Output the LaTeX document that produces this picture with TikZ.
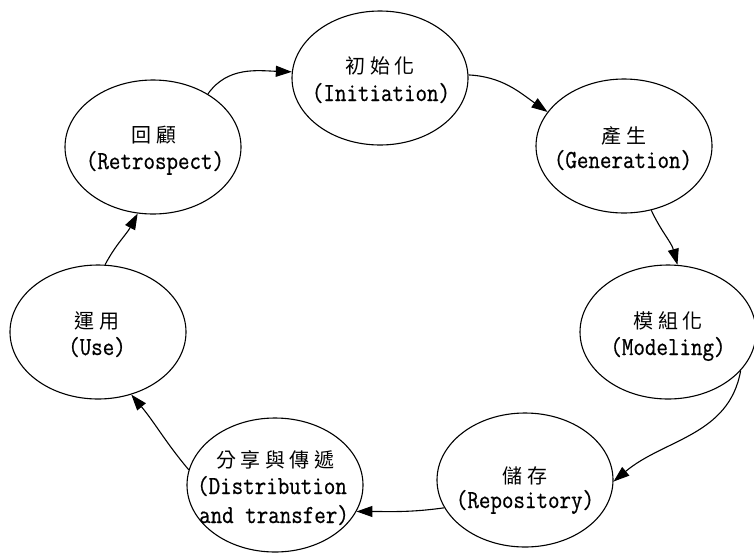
\documentclass[tikz,border=0pt]{standalone}
\usepackage{fontspec}
\usetikzlibrary{shapes.geometric,arrows.meta}
\newfontfamily\cjk{Noto Sans CJK TC}
\newfontfamily\lat[FakeStretch=0.86,FakeBold=0.6]{Latin Modern Mono}
\newcommand\gp{\hspace{4.5pt}}
\begin{document}
\begin{tikzpicture}[x=1pt,y=-1pt,
  stage/.style={ellipse,draw,line width=1.1pt,minimum width=176pt,minimum height=134pt,inner sep=0pt},
  zh/.style={anchor=base,inner sep=0pt,font=\cjk\fontsize{20}{22}\selectfont},
  en/.style={anchor=base,inner sep=0pt,font=\lat\fontsize{26}{28}\selectfont},
  flow/.style={line width=1.1pt,-{Triangle[length=16pt,width=11pt]}}]
\useasboundingbox (0,0) rectangle (754,555);

\node[stage] (init)  at (380,78)  {};
\node[stage] (gen)   at (624,146) {};
\node[stage] (mod)   at (668,332) {};
\node[stage] (rep)   at (525,480) {};
\node[stage] (dist)  at (275,485) {};
\node[stage] (use)   at (98,332)  {};
\node[stage] (retro) at (153,147) {};

\node[zh] (initA) at (380,73)  {初\gp 始\gp 化};
\node[en] (initB) at (381,101) {(Initiation)};
\node[zh] (genA)  at (624,143) {產\gp 生};
\node[en] (genB)  at (623,168) {(Generation)};
\node[zh] (modA)  at (668,328) {模\gp 組\gp 化};
\node[en] (modB)  at (668,355) {(Modeling)};
\node[zh] (repA)  at (525,483) {儲\gp 存};
\node[en] (repB)  at (525,508) {(Repository)};
\node[zh] (distA) at (275,467) {分\gp 享\gp 與\gp 傳\gp 遞};
\node[en] (distB) at (272,494) {(Distribution};
\node[en] (distC) at (274,523) {and transfer)};
\node[zh] (useA)  at (97,328)  {運\gp 用};
\node[en] (useB)  at (97,355)  {(Use)};
\node[zh] (retroA) at (154,142) {回\gp 顧};
\node[en] (retroB) at (155,169) {(Retrospect)};

\draw[flow] (retro.44) to[out=55,in=178] (init.176);
\draw[flow] (init.2) to[out=-3,in=145] (gen.156);
\draw[flow] (gen.-67) to[out=-65,in=105] (mod.82);
\draw[flow] (mod.-28) to[out=-100,in=40] (rep.-1);
\draw[flow] (rep.199) to[out=188,in=0] (dist.-18);
\draw[flow] (dist.170) to[out=130,in=-50] (use.-62);
\draw[flow] (use.84) to[out=62,in=-118] (retro.-103);
\end{tikzpicture}
\end{document}
